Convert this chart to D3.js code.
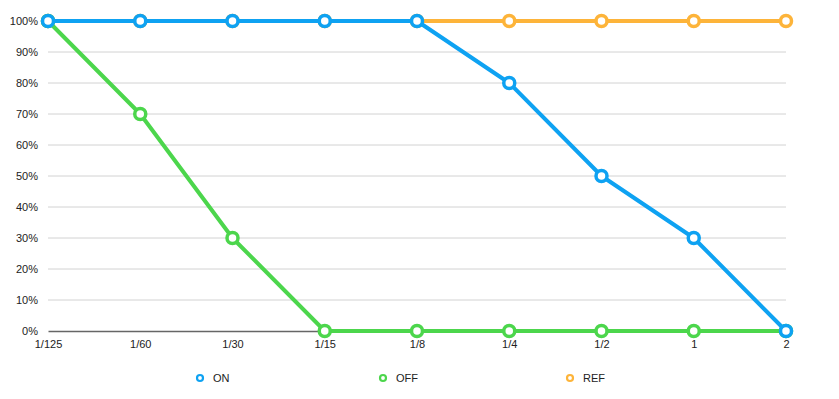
<!DOCTYPE html>
<html>
<head>
<meta charset="utf-8">
<script src="https://cdn.jsdelivr.net/npm/d3@7"></script>
<style>
	body { margin: 0; background: #fff; }
	text { font-family: "Helvetica Neue", "Liberation Sans", Arial, sans-serif; fill: #222; }
</style>
</head>
<body>
<div class="chart"></div>
<script>
var WIDTH = 839,
	HEIGHT = 399;

var categories = ["1/125", "1/60", "1/30", "1/15", "1/8", "1/4", "1/2", "1", "2"];
var yTicks = [0, 10, 20, 30, 40, 50, 60, 70, 80, 90, 100];

var onValues = [100, 100, 100, 100, 100, 80, 50, 30, 0];
var offValues = [100, 70, 30, 0, 0, 0, 0, 0, 0];
var refValues = [100, 100, 100, 100, 100, 100, 100, 100, 100];

var seriesNames = ["ON", "OFF", "REF"];
var seriesColors = ["#0ea2f2", "#4cd64c", "#fdb43a"];

var series = [
	{ name: seriesNames[0], values: onValues, color: seriesColors[0] },
	{ name: seriesNames[1], values: offValues, color: seriesColors[1] },
	{ name: seriesNames[2], values: refValues, color: seriesColors[2] }
];

var xScale = d3.scalePoint()
	.domain(categories)
	.range([48, 786]);

var yScale = d3.scaleLinear()
	.domain([0, 100])
	.range([331, 21]);

var svg = d3.select(".chart").append("svg")
	.attr("width", WIDTH)
	.attr("height", HEIGHT);

// grid lines
svg.append("g")
	.selectAll("line")
	.data(yTicks.filter(function(d) { return d > 0; }))
	.enter()
	.append("line")
	.attr("x1", xScale.range()[0])
	.attr("x2", xScale.range()[1])
	.attr("y1", function(d) { return yScale(d); })
	.attr("y2", function(d) { return yScale(d); })
	.attr("stroke", "#d2d2d2")
	.attr("stroke-width", 1);

var yAxis = d3.axisLeft(yScale)
	.tickValues(yTicks)
	.tickSize(0)
	.tickPadding(10)
	.tickFormat(function(d) { return d + "%"; });

var yAxisGroup = svg.append("g")
	.attr("transform", "translate(48,0)")
	.call(yAxis);
yAxisGroup.select(".domain").remove();
yAxisGroup.selectAll("text")
	.style("font-size", "11px")
	.style("font-family", "\"Helvetica Neue\", \"Liberation Sans\", Arial, sans-serif")
	.attr("fill", "#222");

var xAxis = d3.axisBottom(xScale)
	.tickSize(0)
	.tickPadding(9);

var xAxisGroup = svg.append("g")
	.attr("transform", "translate(0,331)")
	.call(xAxis);
xAxisGroup.select(".domain")
	.attr("stroke", "#666")
	.attr("stroke-width", 1.5);
xAxisGroup.selectAll("text")
	.style("font-size", "11px")
	.style("font-family", "\"Helvetica Neue\", \"Liberation Sans\", Arial, sans-serif")
	.attr("fill", "#222");

var line = d3.line()
	.x(function(d, i) { return xScale(categories[i]); })
	.y(function(d) { return yScale(d); });

// REF first, ON on top
var drawOrder = [series[2], series[1], series[0]];

drawOrder.forEach(function(s) {
	var g = svg.append("g");
	g.append("path")
		.attr("d", line(s.values))
		.attr("fill", "none")
		.attr("stroke", s.color)
		.attr("stroke-width", 4)
		.attr("stroke-linejoin", "round");
	g.selectAll("circle")
		.data(s.values)
		.enter()
		.append("circle")
		.attr("cx", function(d, i) { return xScale(categories[i]); })
		.attr("cy", function(d) { return yScale(d); })
		.attr("r", 5.5)
		.attr("fill", "#fff")
		.attr("stroke", s.color)
		.attr("stroke-width", 3.5);
});

// legend
var legendX = [200, 383, 570];
var legend = svg.append("g")
	.selectAll("g")
	.data(series)
	.enter()
	.append("g")
	.attr("transform", function(d, i) { return "translate(" + legendX[i] + ",378)"; });

legend.append("circle")
	.attr("r", 3)
	.attr("fill", "#fff")
	.attr("stroke", function(d) { return d.color; })
	.attr("stroke-width", 2.2);

legend.append("text")
	.attr("x", 13)
	.attr("dy", "0.35em")
	.style("font-size", "11px")
	.text(function(d) { return d.name; });
</script>
</body>
</html>
